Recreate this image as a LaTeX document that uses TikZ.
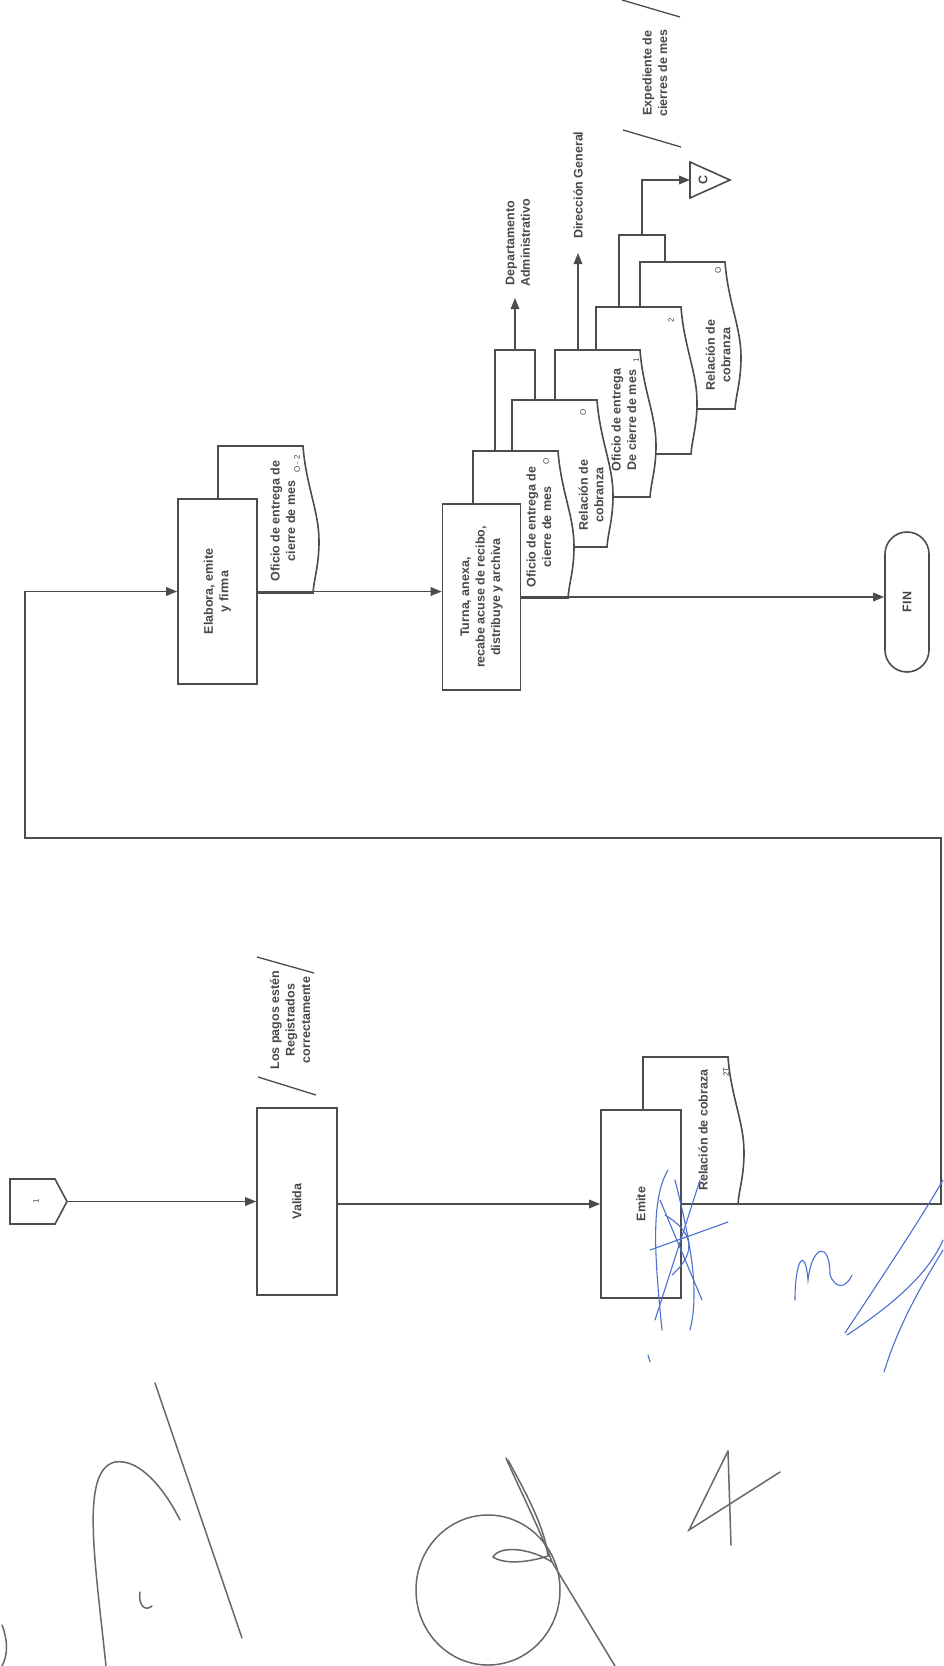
\documentclass[tikz,border=0pt]{standalone}
\usepackage{fontspec}
\setmainfont{Liberation Sans}
\usetikzlibrary{arrows.meta}
\definecolor{ln}{HTML}{4C4C4C}
\definecolor{tx}{HTML}{484848}
\definecolor{sig}{HTML}{686868}
\definecolor{blu}{HTML}{4C6FD0}
\tikzset{
  line/.style={draw=ln, line width=1.6pt},
  arr/.style={line, -{Triangle[length=11pt,width=8.5pt]}},
  box/.style={draw=ln, line width=1.6pt, fill=white, inner sep=0pt},
  txt/.style={text=tx, font=\fontsize{12.5}{15.5}\selectfont\bfseries, rotate=90, align=center, inner sep=0pt},
  small/.style={text=tx, font=\fontsize{8}{9}\selectfont, rotate=90, inner sep=0pt},
  slash/.style={draw=ln, line width=1.3pt},
  graysig/.style={draw=sig, line width=1.5pt, line cap=round},
  bluesig/.style={draw=blu, line width=1.1pt, line cap=round}
}
\newcommand{\docshape}[2]{%
  \begin{scope}[shift={(#1,#2)}]
    \draw[line, fill=white] (0,147) -- (0,0) -- (85,0)
      .. controls (88,40) and (101,65) .. (101,95)
      .. controls (101,120) and (96,132) .. (95,147) -- cycle;
  \end{scope}}
\begin{document}
\begin{tikzpicture}[x=1pt,y=-1pt]
\useasboundingbox (0,0) rectangle (943,1666);
\fill[white] (0,0) rectangle (943,1666);

% ---- brackets and outgoing arrows
\coordinate (docAtop) at (495,451);
\coordinate (ab1) at (495,350);
\coordinate (ab2) at (535,350);
\coordinate (docBtop) at (535,400);
\coordinate (abm) at (515,350);
\coordinate (deptEnd) at (515,298);
\draw[line] (docAtop) -- (ab1) -- (ab2) -- (docBtop);
\draw[arr] (abm) -- (deptEnd);

\coordinate (docCtop) at (578,350);
\coordinate (dgEnd) at (578,253);
\draw[arr] (docCtop) -- (dgEnd);

\coordinate (docDtop) at (619,307);
\coordinate (de1) at (619,235);
\coordinate (de2) at (665,235);
\coordinate (docEtop) at (665,262);
\coordinate (dem) at (642,235);
\coordinate (deUp) at (642,180);
\coordinate (triC) at (690,180);
\draw[line] (docDtop) -- (de1) -- (de2) -- (docEtop);
\draw[arr] (dem) -- (deUp) -- (triC);
\draw[line, fill=white] (690,162) -- (730,180) -- (690,198) -- cycle;

% ---- stacked documents (back to front)
\docshape{640}{262}
\docshape{596}{307}
\docshape{555}{350}
\docshape{512}{400}
\docshape{473}{451}
\node[box, minimum width=78pt, minimum height=186pt] (turna) at (481.5,597) {};

\docshape{218}{446}
\node[box, minimum width=79pt, minimum height=185pt] (elabora) at (217.5,591.5) {};

\docshape{643}{1057}
\node[box, minimum width=80pt, minimum height=188pt] (emite) at (641,1204) {};

\node[box, minimum width=80pt, minimum height=187pt] (valida) at (297,1201.5) {};

\node[box, rounded corners=22pt, minimum width=44pt, minimum height=140pt] (fin) at (907,602) {};

% off-page connector 1
\draw[line, fill=white] (10,1179) -- (55,1179) -- (67,1201.5) -- (55,1224) -- (10,1224) -- cycle;
\coordinate (c1tip) at (67,1201.5);

% ---- flow lines
\draw[arr] (c1tip) -- (valida.west);
\draw[arr] (valida.east |- emite.west) -- (emite.west);
\draw[arr] (elabora.east) -- (turna.west |- elabora.east);
\draw[arr] (turna.east) -- (fin.west |- turna.east);
\coordinate (r1) at (941,1204);
\coordinate (r2) at (941,838);
\coordinate (l1) at (25,838);
\coordinate (l2) at (25,591.5);
\draw[arr] (emite.east) -- (r1) -- (r2) -- (l1) -- (l2) -- (elabora.west);

% ---- annotation slashes
\draw[slash] (257,957) -- (314,973);
\draw[slash] (258,1077) -- (316,1095);
\draw[slash] (622,0) -- (680,17);
\draw[slash] (623,130) -- (681,147);

% ---- texts
\node[small] (t1) at (36,1201.5) {1};
\node[txt] (tvalida) at (valida) {Valida};
\node[txt] (telabora) at (elabora) {Elabora, emite\\y firma};
\node[txt] (tturna) at (turna) {Turna, anexa,\\recabe acuse de recibo,\\distribuye y archiva};
\node[txt] (temite) at (emite) {Emite};
\node[txt] (tfin) at (fin) {FIN};
\node[txt] (tc) at (703,180) {C};
\node[txt] (tlos) at (290,1020) {Los pagos estén\\Registrados\\correctamente};
\node[txt] (texp) at (655,73) {Expediente de\\cierres de mes};
\node[txt] (tdep) at (518,243) {Departamento\\Administrativo};
\node[txt] (tdg) at (578,185) {Dirección General};

\node[txt] (tdocel) at (283,521) {Oficio de entrega de\\cierre de mes};
\node[small] (sdocel) at (297,464) {O - 2};
\node[txt] (tdocem) at (703,1130) {Relación de cobraza};
\node[small] (sdocem) at (726,1072) {2T};
\node[txt] (tdocA) at (539,527) {Oficio de entrega de\\cierre de mes};
\node[small] (sdocA) at (546,461) {O};
\node[txt] (tdocB) at (591,495) {Relación de\\cobranza};
\node[small] (sdocB) at (583,412) {O};
\node[txt] (tdocC) at (624,420) {Oficio de entrega\\De cierre de mes};
\node[small] (sdocC) at (636,360) {1};
\node[small] (sdocD) at (671,320) {2};
\node[txt] (tdocE) at (718,355) {Relación de\\cobranza};
\node[small] (sdocE) at (718,270) {O};

% ---- handwritten signatures (gray)
\draw[graysig] (155,1383) -- (242,1638);
\draw[graysig] (106,1666) .. controls (95,1560) and (80,1470) .. (115,1462) .. controls (140,1458) and (165,1490) .. (180,1520);
\draw[graysig] (140,1592) .. controls (138,1605) and (145,1612) .. (152,1606);
\draw[graysig] (2,1625) .. controls (8,1640) and (8,1655) .. (2,1666);
\draw[graysig] (488,1590) ellipse [x radius=72, y radius=75];
\draw[graysig] (506,1458) .. controls (520,1490) and (540,1530) .. (552,1562) -- (615,1666);
\draw[graysig] (508,1460) .. controls (530,1500) and (545,1530) .. (548,1556);
\draw[graysig] (552,1562) .. controls (530,1548) and (500,1545) .. (493,1557) .. controls (505,1565) and (530,1562) .. (548,1556);
\draw[graysig] (728,1451) -- (689,1530) -- (780,1472);
\draw[graysig] (728,1451) -- (731,1545);

% ---- handwritten signatures (blue)
\draw[bluesig] (668,1170) .. controls (650,1200) and (655,1260) .. (662,1330);
\draw[bluesig] (655,1320) -- (700,1180);
\draw[bluesig] (660,1200) -- (702,1300);
\draw[bluesig] (675,1180) .. controls (690,1240) and (700,1290) .. (690,1330);
\draw[bluesig] (650,1250) -- (728,1222);
\draw[bluesig] (665,1215) .. controls (690,1230) and (700,1250) .. (672,1275);
\draw[bluesig] (648,1355) -- (650,1362);
\draw[bluesig] (795,1300) .. controls (795,1260) and (805,1245) .. (808,1280) .. controls (812,1245) and (830,1240) .. (830,1275) .. controls (835,1288) and (845,1290) .. (852,1275);
\draw[bluesig] (845,1333) .. controls (880,1280) and (920,1220) .. (943,1180);
\draw[bluesig] (847,1335) .. controls (900,1300) and (930,1270) .. (943,1240);
\draw[bluesig] (884,1372) .. controls (900,1320) and (925,1280) .. (943,1250);
\end{tikzpicture}
\end{document}
